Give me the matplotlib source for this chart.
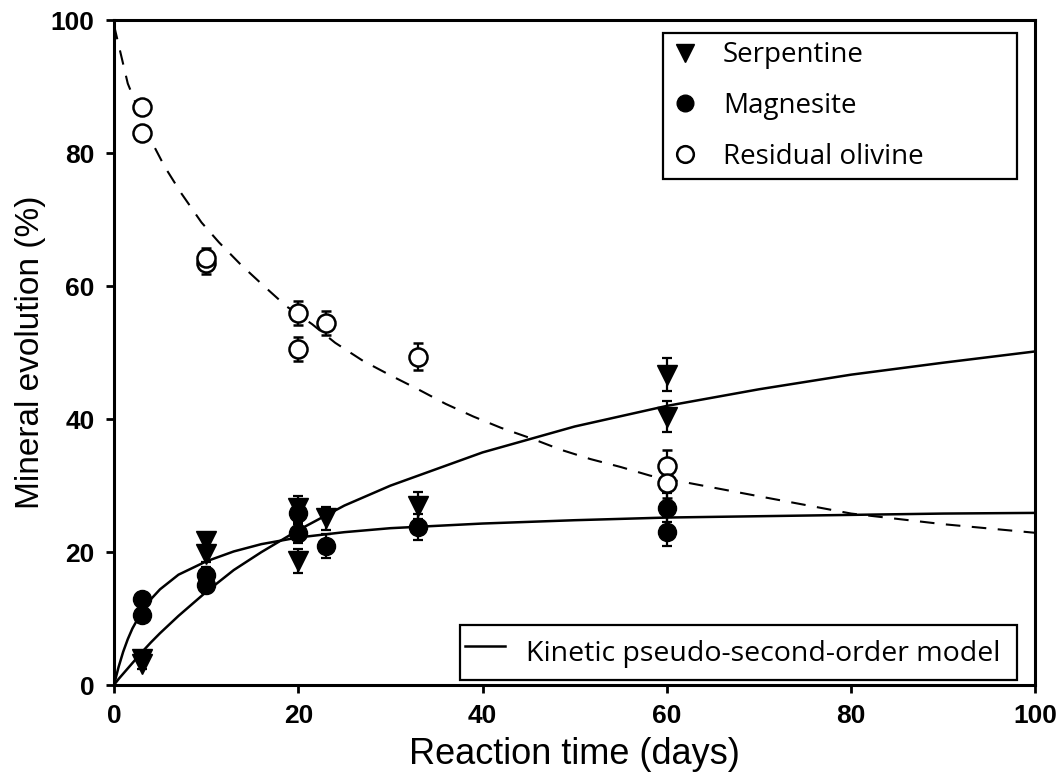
import numpy as np
import matplotlib
matplotlib.use('Agg')
import matplotlib.pyplot as plt
from matplotlib.lines import Line2D

# measured points (reaction time in days, % mineral)
serp_t = [3, 3, 10, 10, 20, 20, 23, 33, 60, 60]
serp_v = [3.9, 3.2, 21.7, 19.7, 26.7, 18.6, 25.1, 27.0, 46.7, 40.4]
serp_err = [0.8, 0.8, 1.2, 1.2, 1.7, 1.8, 1.7, 2.0, 2.5, 2.4]

mag_t = [3, 3, 10, 10, 20, 20, 23, 33, 60, 60]
mag_v = [13.0, 10.5, 16.6, 15.0, 25.9, 22.9, 20.9, 23.8, 26.7, 23.1]
mag_err = [0.8, 0.8, 1.2, 1.2, 1.6, 1.6, 1.8, 2.0, 2.2, 2.2]

oliv_t = [3, 3, 10, 10, 20, 20, 23, 33, 60, 60]
oliv_v = [86.9, 83.1, 63.5, 64.2, 56.0, 50.5, 54.5, 49.4, 33.0, 30.4]
oliv_err = [1.0, 1.0, 1.6, 1.6, 1.8, 1.8, 1.8, 2.0, 2.3, 2.3]

# model curves
curve_t = [0, 0.5, 1, 1.5, 2, 3, 4, 5, 7, 10, 13, 16, 20, 25, 30, 40, 50, 60,
           70, 80, 90, 100]
serp_model = [0, 0.9, 1.7, 2.5, 3.3, 4.9, 6.4, 7.8, 10.4, 14.0, 17.3, 20.0,
              23.3, 27.0, 30.0, 35.0, 38.9, 42.0, 44.5, 46.7, 48.5, 50.2]
mag_model = [0, 2.7, 5.0, 6.9, 8.5, 11.0, 12.9, 14.4, 16.6, 18.6, 20.1, 21.2,
             22.2, 23.0, 23.6, 24.3, 24.8, 25.2, 25.4, 25.6, 25.8, 25.9]

oliv_curve_t = [0, 1.5, 4, 5.5, 7.3, 9.5, 11.4, 13.8, 16.3, 18.7, 21.5, 24, 27,
                30, 33, 36, 39, 42, 45.5, 48.5, 51.7, 55, 58.2, 70, 80, 90, 100]
oliv_curve_v = [99.3, 90.5, 82.0, 78.0, 74.0, 69.6, 66.6, 63.2, 60.0, 57.0, 54.3,
                51.5, 48.8, 46.6, 44.5, 42.3, 40.4, 38.7, 37.0, 35.4, 34.0, 32.8,
                31.5, 28.4, 25.8, 24.2, 22.9]

fig = plt.figure(figsize=(10.63, 7.82), dpi=100)
ax = fig.add_axes([0.1072, 0.124, 0.8669, 0.8499])

ax.plot(curve_t, serp_model, color='black', lw=1.8, zorder=2)
ax.plot(curve_t, mag_model, color='black', lw=1.8, zorder=2)
ax.plot(oliv_curve_t, oliv_curve_v, color='black', lw=1.5, dashes=(7, 5.5), zorder=2)

eb_kw = dict(ls='none', ecolor='black', elinewidth=1.6, capsize=3.5, capthick=1.6, zorder=3)
ax.errorbar(oliv_t, oliv_v, yerr=oliv_err, marker='o', ms=13, mfc='white',
            mec='black', mew=1.8, **eb_kw)
ax.errorbar(mag_t, mag_v, yerr=mag_err, marker='o', ms=13, mfc='black',
            mec='black', **eb_kw)
ax.errorbar(serp_t, serp_v, yerr=serp_err, marker='v', ms=14, mfc='black',
            mec='black', **eb_kw)

ax.set_xlim(0, 100)
ax.set_ylim(0, 100)
ax.set_xticks([0, 20, 40, 60, 80, 100])
ax.set_yticks([0, 20, 40, 60, 80, 100])
for s in ax.spines.values():
    s.set_linewidth(2.2)
ax.tick_params(direction='out', length=6, width=2, labelsize=19, pad=8)
for lab in ax.get_xticklabels() + ax.get_yticklabels():
    lab.set_fontfamily('Liberation Sans')
    lab.set_fontweight('bold')

ax.set_xlabel('Reaction time (days)', fontsize=26, family='Liberation Sans', labelpad=6)
ax.set_ylabel('Mineral evolution (%)', fontsize=24, family='Liberation Sans', labelpad=3)

handles = [
    Line2D([], [], ls='none', marker='v', ms=13, color='black'),
    Line2D([], [], ls='none', marker='o', ms=12, color='black'),
    Line2D([], [], ls='none', marker='o', ms=12, mfc='white', mec='black', mew=1.8),
]
leg1 = ax.legend(handles, ['Serpentine', 'Magnesite', 'Residual olivine'],
                 loc='upper left', bbox_to_anchor=(0.596, 0.757, 0.384, 0.224),
                 mode='expand', borderaxespad=0, fancybox=False, framealpha=1,
                 edgecolor='black', prop={'family': 'Open Sans', 'size': 20},
                 labelspacing=0.82, handlelength=1.0, handletextpad=0.85,
                 borderpad=0.3)
leg1.get_frame().set_linewidth(1.6)
ax.add_artist(leg1)

leg2 = ax.legend([Line2D([], [], color='black', lw=1.8)],
                 ['Kinetic pseudo-second-order model'],
                 loc='lower left', bbox_to_anchor=(0.375, 0.0075, 0.605, 0.088),
                 mode='expand', borderaxespad=0, fancybox=False, framealpha=1,
                 edgecolor='black', prop={'family': 'Open Sans', 'size': 20.5},
                 handlelength=1.4, handleheight=2.0, handletextpad=0.75,
                 borderpad=0.2)
leg2.get_frame().set_linewidth(1.6)

fig.savefig('out.png', dpi=100)
